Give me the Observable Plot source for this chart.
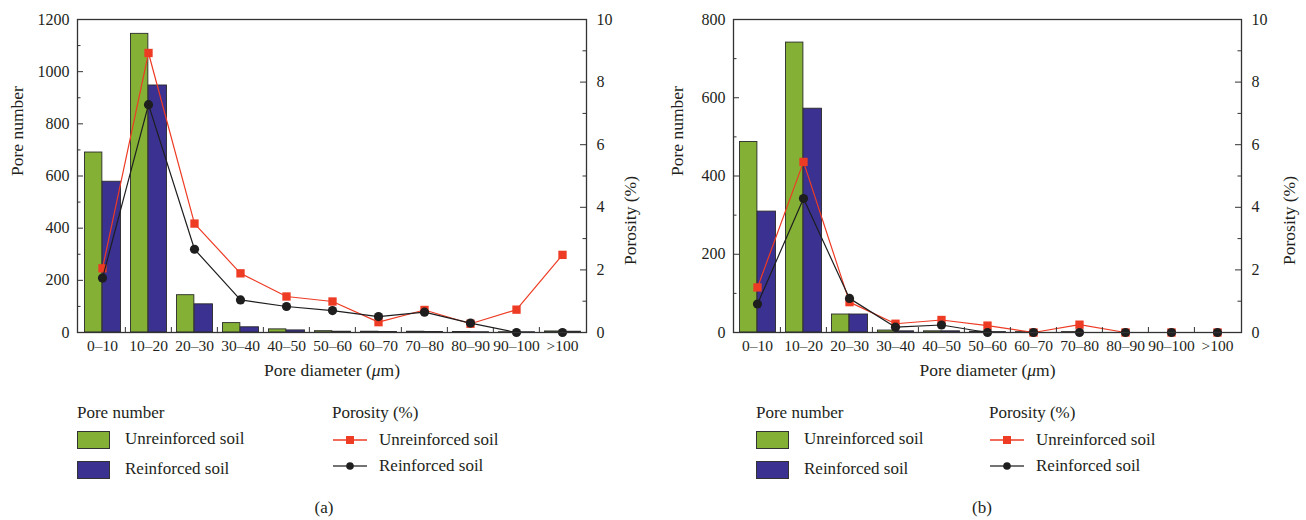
<!DOCTYPE html>
<html><head><meta charset="utf-8">
<script src="https://cdn.jsdelivr.net/npm/d3@7"></script>
<script src="https://cdn.jsdelivr.net/npm/@observablehq/plot@0.6"></script>
<style>
body{margin:0;background:#fff;font-family:"Liberation Serif","Times New Roman","DejaVu Serif",serif;color:#231f20}
#wrap{position:relative;width:1306px;height:520px;overflow:hidden}
.panel{position:absolute;top:0;width:653px;height:520px}
.panel svg{position:absolute;left:0;top:0}
.panel svg text{font-family:"Liberation Serif","Times New Roman","DejaVu Serif",serif}
.lg{position:absolute;font-size:17px;line-height:1;white-space:nowrap}
.sw{position:absolute;width:31px;height:16px;border:1px solid #333}
.cap{position:absolute;top:498px;font-size:17px;transform:translateX(-50%)}
</style></head><body>
<div id="wrap"><div class="panel" id="pa"></div><div class="panel" id="pb" style="left:653px"></div></div>
<script>
const categories = ["0–10","10–20","20–30","30–40","40–50","50–60","60–70","70–80","80–90","90–100",">100"];
// (a)
const poreA_unreinforced = [690, 1145, 143, 36, 12, 5, 3, 3, 2, 1, 4];
const poreA_reinforced   = [578, 947, 108, 20, 8, 3, 2, 2, 1, 1, 3];
const porosityA_unreinforced = [2.05, 8.93, 3.48, 1.89, 1.15, 0.99, 0.33, 0.72, 0.28, 0.73, 2.48];
const porosityA_reinforced   = [1.74, 7.28, 2.66, 1.04, 0.83, 0.70, 0.51, 0.65, 0.30, 0, 0];
// (b)
const poreB_unreinforced = [487, 741, 46, 5, 3, 2, 1, 1, 0, 0, 0];
const poreB_reinforced   = [309, 572, 46, 3, 3, 1, 0, 0, 0, 0, 0];
const porosityB_unreinforced = [1.44, 5.45, 0.97, 0.28, 0.40, 0.22, 0, 0.25, 0, 0, 0];
const porosityB_reinforced   = [0.91, 4.28, 1.09, 0.17, 0.24, 0, 0, 0, 0, 0, 0];
const leftTicksA = [0, 200, 400, 600, 800, 1000, 1200];
const leftTicksB = [0, 200, 400, 600, 800];
const rightTicks = [0, 2, 4, 6, 8, 10];

const GREEN = "#84b135", BLUE = "#3a3191", RED = "#ee3b24", BLACK = "#1e1e1e", AX = "#333", TXT = "#231f20";
const FONT = "Liberation Serif, Times New Roman, DejaVu Serif, serif";

function panel(el, o) {
  const W = 653, H = 390, mt = 19, mb = 58;
  const plotW = W - o.ml - o.mr, plotH = H - mt - mb;
  const bw = plotW / categories.length;
  const yMax = o.yMax, k = yMax / 10;
  const data = categories.map((c, i) => ({cat: c, u: o.u[i], r: o.r[i], pu: o.pu[i], pr: o.pr[i]}));
  const minorL = d3.range(0, yMax + 1, 100).filter(v => !o.lt.includes(v));
  const majorR = rightTicks.map(v => v * k);
  const minorR = [1, 3, 5, 7, 9].map(v => v * k);
  const svg = Plot.plot({
    width: W, height: H, marginTop: mt, marginBottom: mb, marginLeft: o.ml, marginRight: o.mr,
    style: {fontFamily: FONT, fontSize: "15px", color: TXT, background: "transparent"},
    x: {type: "band", domain: categories, padding: 0, axis: null},
    y: {domain: [0, yMax], axis: null},
    marks: [
      Plot.barY(data, {x: "cat", y: "u", fill: GREEN, stroke: "#2a2a2a", strokeWidth: 0.9, insetLeft: 5.5, insetRight: bw / 2}),
      Plot.barY(data, {x: "cat", y: "r", fill: BLUE, stroke: "#2a2a2a", strokeWidth: 0.9, insetLeft: bw / 2, insetRight: 4.5}),
      Plot.line(data, {x: "cat", y: d => d.pu * k, stroke: RED, strokeWidth: 1.2}),
      Plot.dot(data, {x: "cat", y: d => d.pu * k, symbol: "square", r: 4.7, fill: RED}),
      Plot.line(data, {x: "cat", y: d => d.pr * k, stroke: BLACK, strokeWidth: 1.2}),
      Plot.dot(data, {x: "cat", y: d => d.pr * k, r: 4.6, fill: BLACK}),
      Plot.frame({stroke: AX, strokeWidth: 1.3}),
      Plot.tickY(o.lt, {y: d => d, insetRight: plotW - 6, stroke: AX}),
      Plot.tickY(minorL, {y: d => d, insetRight: plotW - 3.5, stroke: AX}),
      Plot.tickY(majorR, {y: d => d, insetLeft: plotW - 6, stroke: AX}),
      Plot.tickY(minorR, {y: d => d, insetLeft: plotW - 3.5, stroke: AX}),
      Plot.ruleX(categories.slice(1), {x: d => d, dx: -bw / 2, insetTop: plotH - 5, stroke: AX}),
      Plot.text(o.lt, {y: d => d, text: d => String(d), frameAnchor: "left", dx: -8, textAnchor: "end", fontSize: 16, fill: TXT}),
      Plot.text(majorR, {y: d => d, text: d => String(Math.round(d / k)), frameAnchor: "right", dx: 10, textAnchor: "start", fontSize: 16, fill: TXT}),
      Plot.text(categories, {x: d => d, text: d => d, frameAnchor: "bottom", dy: 7, lineAnchor: "top", fontSize: 15.5, fill: TXT}),
      Plot.text(["Pore number"], {frameAnchor: "left", dx: o.ldx, rotate: -90, fontSize: 17.5, fill: TXT}),
      Plot.text(["Porosity (%)"], {frameAnchor: "right", dx: o.rdx, rotate: -90, fontSize: 17.5, fill: TXT}),
      Plot.text(["Pore diameter (μm)"], {frameAnchor: "bottom", dy: 43, fontSize: 17.5, fill: TXT})
    ]
  });
  d3.select(svg).selectAll("text").filter(function(){ return this.textContent === "Pore diameter (μm)"; })
    .html('Pore diameter (<tspan font-style="italic">μ</tspan>m)');
  el.appendChild(svg);

  const L = o.lgx, R = o.lgx2;
  el.insertAdjacentHTML("beforeend", `
    <div class="lg" style="left:${L}px;top:404px">Pore number</div>
    <div class="sw" style="left:${L}px;top:431px;background:${GREEN}"></div>
    <div class="lg" style="left:${L + 48}px;top:430px">Unreinforced soil</div>
    <div class="sw" style="left:${L}px;top:461px;background:${BLUE}"></div>
    <div class="lg" style="left:${L + 48}px;top:460px">Reinforced soil</div>
    <div class="lg" style="left:${R}px;top:404px">Porosity (%)</div>
    <svg width="40" height="12" style="position:absolute;left:${R}px;top:434px"><line x1="1" x2="35" y1="6" y2="6" stroke="${RED}" stroke-width="1.3"/><rect x="14" y="2" width="8" height="8" fill="${RED}"/></svg>
    <div class="lg" style="left:${R + 47}px;top:431px">Unreinforced soil</div>
    <svg width="40" height="12" style="position:absolute;left:${R}px;top:460px"><line x1="1" x2="35" y1="6" y2="6" stroke="#444" stroke-width="1.3"/><circle cx="18" cy="6" r="3.8" fill="${BLACK}"/></svg>
    <div class="lg" style="left:${R + 47}px;top:457px">Reinforced soil</div>
    <div class="cap" style="left:${o.capx}px">${o.cap}</div>`);
}

panel(document.getElementById("pa"), {
  u: poreA_unreinforced, r: poreA_reinforced, pu: porosityA_unreinforced, pr: porosityA_reinforced,
  yMax: 1200, lt: leftTicksA, ml: 77, mr: 67, ldx: -60, rdx: 44, lgx: 77, lgx2: 332, cap: "(a)", capx: 324
});
panel(document.getElementById("pb"), {
  u: poreB_unreinforced, r: poreB_reinforced, pu: porosityB_unreinforced, pr: porosityB_reinforced,
  yMax: 800, lt: leftTicksB, ml: 80, mr: 65, ldx: -56, rdx: 48, lgx: 103, lgx2: 336, cap: "(b)", capx: 329
});
</script>
</body></html>
